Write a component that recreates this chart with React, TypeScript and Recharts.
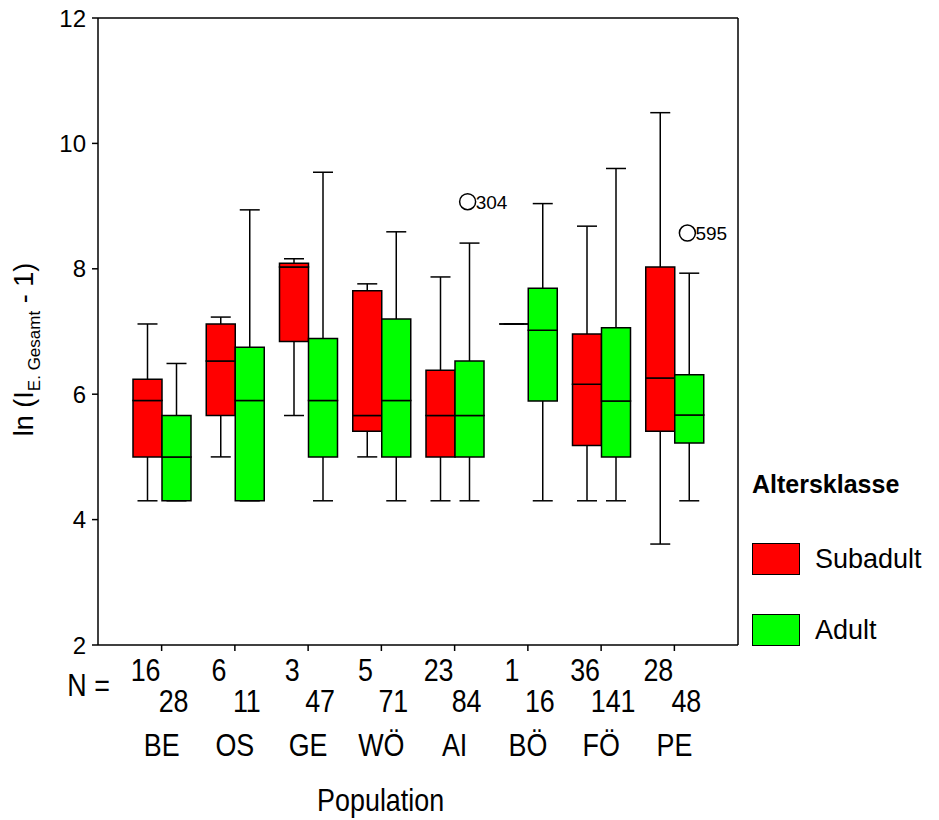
import React from 'react';
import { ComposedChart, Bar, Scatter, XAxis, YAxis, Legend } from 'recharts';

const categories = ['BE', 'OS', 'GE', 'WÖ', 'AI', 'BÖ', 'FÖ', 'PE'];
const nSub = [16, 6, 3, 5, 23, 1, 36, 28];
const nAd = [28, 11, 47, 71, 84, 16, 141, 48];

// Subadult boxes
const subMin = [4.3, 5.0, 5.66, 5.0, 4.3, 7.12, 4.3, 3.61];
const subQ1 = [5.0, 5.66, 6.84, 5.41, 5.0, 7.12, 5.18, 5.41];
const subMed = [5.9, 6.53, 8.03, 5.66, 5.66, 7.12, 6.16, 6.26];
const subQ3 = [6.24, 7.12, 8.09, 7.65, 6.38, 7.12, 6.96, 8.03];
const subMax = [7.12, 7.23, 8.16, 7.76, 7.87, 7.12, 8.68, 10.49];

// Adult boxes
const adMin = [4.3, 4.3, 4.3, 4.3, 4.3, 4.3, 4.3, 4.3];
const adQ1 = [4.3, 4.3, 5.0, 5.0, 5.0, 5.89, 5.0, 5.22];
const adMed = [5.0, 5.9, 5.9, 5.9, 5.66, 7.02, 5.89, 5.67];
const adQ3 = [5.66, 6.75, 6.89, 7.2, 6.53, 7.69, 7.06, 6.31];
const adMax = [6.49, 8.94, 9.54, 8.59, 8.41, 9.04, 9.6, 7.93];

const outlierCats = ['AI', 'PE'];
const outlierValues = [9.07, 8.57];
const outlierLabels = ['304', '595'];

const yTicks = [2, 4, 6, 8, 10, 12];

const RED = '#ff0000';
const GREEN = '#00ff00';
const BOX_W = 29;
const CAP_W = 20;
const SANS = "'Liberation Sans', Arial, sans-serif";

const rows = categories.map((name, i) => ({
  name,
  sBase: subMin[i],
  sLo: subQ1[i] - subMin[i],
  sB1: subMed[i] - subQ1[i],
  sB2: subQ3[i] - subMed[i],
  sHi: subMax[i] - subQ3[i],
  aBase: adMin[i],
  aLo: adQ1[i] - adMin[i],
  aB1: adMed[i] - adQ1[i],
  aB2: adQ3[i] - adMed[i],
  aHi: adMax[i] - adQ3[i],
}));

const outlierRows = outlierCats.map((name, i) => ({
  name,
  value: outlierValues[i],
  label: outlierLabels[i],
}));

function Hidden() {
  return <g />;
}

function BoxPart(props: any) {
  const { x, y, width, height, fill } = props;
  return (
    <path
      d={`M${x},${y}h${width}v${height}h${-width}Z`}
      fill={fill}
      stroke="#000"
      strokeWidth={1.5}
    />
  );
}

function UpperWhisker(props: any) {
  const { x, y, width, height } = props;
  const cx = x + width / 2;
  return (
    <g stroke="#000" strokeWidth={1.5}>
      <line x1={cx} x2={cx} y1={y} y2={y + height} />
      <line x1={cx - CAP_W / 2} x2={cx + CAP_W / 2} y1={y} y2={y} />
    </g>
  );
}

function LowerWhisker(props: any) {
  const { x, y, width, height } = props;
  const cx = x + width / 2;
  return (
    <g stroke="#000" strokeWidth={1.5}>
      <line x1={cx} x2={cx} y1={y} y2={y + height} />
      <line x1={cx - CAP_W / 2} x2={cx + CAP_W / 2} y1={y + height} y2={y + height} />
    </g>
  );
}

function OutlierShape(props: any) {
  const { cx, cy, payload } = props;
  const px = cx + 13;
  return (
    <g>
      <circle cx={px} cy={cy} r={8} fill="#fff" stroke="#000" strokeWidth={1.5} />
      <text x={px + 8} y={cy + 7} fontSize={19} fontFamily={SANS} fill="#000">
        {payload.label}
      </text>
    </g>
  );
}

// condensed text, like the narrow face of the original
function NarrowText({ x, y, children }: any) {
  return (
    <text transform={`translate(${x} ${y}) scale(0.84 1)`} x={0} y={0}>
      {children}
    </text>
  );
}

function PopTick(props: any) {
  const { x, y, payload } = props;
  const i = payload.index;
  return (
    <g fontFamily={SANS} fontSize={32} fill="#000" textAnchor="middle">
      <NarrowText x={x - 16} y={y + 28}>{nSub[i]}</NarrowText>
      <NarrowText x={x + 12} y={y + 59}>{nAd[i]}</NarrowText>
      <NarrowText x={x} y={y + 103}>{categories[i]}</NarrowText>
      {i === 0 && (
        <>
          <NarrowText x={x - 73} y={y + 43}>N =</NarrowText>
          <NarrowText x={x + 219} y={y + 158}>Population</NarrowText>
        </>
      )}
    </g>
  );
}

function YLabel(props: any) {
  const { viewBox } = props;
  const cx = viewBox.x - 5;
  const cy = viewBox.y + viewBox.height / 2 + 18;
  return (
    <text
      x={cx}
      y={cy}
      transform={`rotate(-90, ${cx}, ${cy})`}
      textAnchor="middle"
      fontFamily={SANS}
      fontSize={27}
      fill="#000"
    >
      ln (I
      <tspan fontSize={17} dy={7}>E. Gesamt</tspan>
      <tspan dy={-7}> - 1)</tspan>
    </text>
  );
}

function LegendBox() {
  return (
    <div style={{ fontFamily: SANS, color: '#000', textAlign: 'left' }}>
      <div style={{ fontWeight: 'bold', fontSize: 25, lineHeight: '30px' }}>Altersklasse</div>
      <div style={{ display: 'flex', alignItems: 'center', marginTop: 44 }}>
        <span
          style={{
            width: 48,
            height: 32,
            background: RED,
            border: '1px solid #000',
            boxSizing: 'border-box',
          }}
        />
        <span style={{ marginLeft: 15, fontSize: 27 }}>Subadult</span>
      </div>
      <div style={{ display: 'flex', alignItems: 'center', marginTop: 39 }}>
        <span
          style={{
            width: 48,
            height: 32,
            background: GREEN,
            border: '1px solid #000',
            boxSizing: 'border-box',
          }}
        />
        <span style={{ marginLeft: 15, fontSize: 27 }}>Adult</span>
      </div>
    </div>
  );
}

export default function App() {
  return (
    <div style={{ position: 'absolute', left: 0, top: 0, background: '#fff' }}>
      <ComposedChart
        width={939}
        height={820}
        data={rows}
        barSize={BOX_W}
        barGap={0}
        margin={{ top: 17, right: 200, left: 38, bottom: 145 }}
      >
        <XAxis
          dataKey="name"
          height={30}
          allowDuplicatedCategory={false}
          padding={{ left: 27, right: 27 }}
          axisLine={{ stroke: '#000', strokeWidth: 1.5 }}
          tickLine={{ stroke: '#000', strokeWidth: 1.5 }}
          tickSize={6}
          tickMargin={2}
          interval={0}
          tick={<PopTick />}
        />
        <XAxis
          xAxisId="top"
          dataKey="name"
          orientation="top"
          allowDuplicatedCategory={false}
          height={1}
          tick={false}
          tickLine={false}
          axisLine={{ stroke: '#000', strokeWidth: 1.5 }}
        />
        <YAxis
          type="number"
          domain={[2, 12]}
          ticks={yTicks}
          allowDataOverflow
          width={60}
          axisLine={{ stroke: '#000', strokeWidth: 1.5 }}
          tickLine={{ stroke: '#000', strokeWidth: 1.5 }}
          tickSize={6}
          tickMargin={6}
          tick={{ fontSize: 24, fill: '#000', fontFamily: SANS }}
          label={<YLabel />}
        />
        <YAxis
          yAxisId="right"
          orientation="right"
          type="number"
          domain={[2, 12]}
          allowDataOverflow
          width={1}
          tick={false}
          tickLine={false}
          axisLine={{ stroke: '#000', strokeWidth: 1.5 }}
        />
        <Legend
          content={<LegendBox />}
          layout="horizontal"
          verticalAlign="middle"
          align="center"
          wrapperStyle={{ left: 752, top: 469, width: 185 }}
        />
        <Bar dataKey="sBase" stackId="s" fill="none" shape={<Hidden />} legendType="none" isAnimationActive={false} />
        <Bar dataKey="sLo" stackId="s" shape={<LowerWhisker />} legendType="none" isAnimationActive={false} />
        <Bar dataKey="sB1" stackId="s" fill={RED} shape={<BoxPart />} name="Subadult" isAnimationActive={false} />
        <Bar dataKey="sB2" stackId="s" fill={RED} shape={<BoxPart />} legendType="none" isAnimationActive={false} />
        <Bar dataKey="sHi" stackId="s" shape={<UpperWhisker />} legendType="none" isAnimationActive={false} />
        <Bar dataKey="aBase" stackId="a" fill="none" shape={<Hidden />} legendType="none" isAnimationActive={false} />
        <Bar dataKey="aLo" stackId="a" shape={<LowerWhisker />} legendType="none" isAnimationActive={false} />
        <Bar dataKey="aB1" stackId="a" fill={GREEN} shape={<BoxPart />} name="Adult" isAnimationActive={false} />
        <Bar dataKey="aB2" stackId="a" fill={GREEN} shape={<BoxPart />} legendType="none" isAnimationActive={false} />
        <Bar dataKey="aHi" stackId="a" shape={<UpperWhisker />} legendType="none" isAnimationActive={false} />
        <Scatter
          data={outlierRows}
          dataKey="value"
          shape={<OutlierShape />}
          legendType="none"
          isAnimationActive={false}
        />
      </ComposedChart>
    </div>
  );
}
